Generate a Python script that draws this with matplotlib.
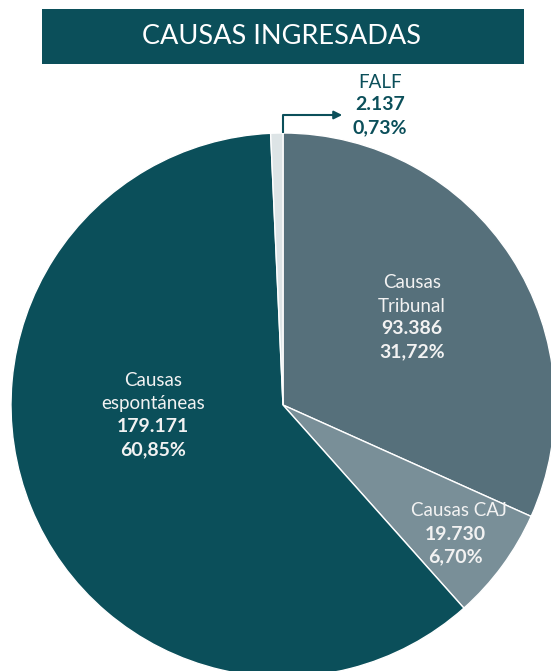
import matplotlib
matplotlib.use("Agg")
import matplotlib.pyplot as plt
from matplotlib.patches import Rectangle

plt.rcParams['font.family'] = ['Lato', 'DejaVu Sans']

# ── data ──────────────────────────────────────────────────────────────────────
LABELS   = ["Causas\nTribunal", "Causas CAJ", "Causas\nespontáneas", "FALF"]
VALUES   = [93386, 19730, 179171, 2137]
VAL_TXT  = ["93.386", "19.730", "179.171", "2.137"]
PCT_TXT  = ["31,72%", "6,70%", "60,85%", "0,73%"]
COLORS   = ["#56707b", "#798f98", "#0b4f5a", "#dde4e6"]

TEAL = "#0b4f5a"
W, H = 551, 671


def Y(y):
    return H - y


fig = plt.figure(figsize=(W / 100, H / 100), dpi=100)
ax = fig.add_axes([0, 0, 1, 1])
ax.set_xlim(0, W)
ax.set_ylim(0, H)
ax.set_aspect("equal")
ax.axis("off")

# ── pie ───────────────────────────────────────────────────────────────────────
ax.pie(VALUES, colors=COLORS, startangle=90, counterclock=False,
       center=(283, Y(405)), radius=272,
       wedgeprops=dict(edgecolor="white", linewidth=1.0))
ax.set_xlim(0, W)
ax.set_ylim(0, H)

# ── title box ─────────────────────────────────────────────────────────────────
ax.add_patch(Rectangle((42, Y(64)), 482, 55, facecolor=TEAL, edgecolor="none", zorder=5))
ax.text(282, Y(37), "CAUSAS INGRESADAS", color="white", fontsize=19.5,
        ha="center", va="center", zorder=6)

# ── slice labels ──────────────────────────────────────────────────────────────
def block(x, y_first, name, val, pct, color, step=23, name_dx=0):
    lines = name.split("\n")
    y = y_first
    for ln in lines:
        ax.text(x + name_dx, Y(y), ln, color=color, fontsize=13.5,
                ha="center", va="center")
        y += step
    ax.text(x, Y(y), val, color=color, fontsize=14, fontweight="bold",
            ha="center", va="center")
    y += step
    ax.text(x, Y(y), pct, color=color, fontsize=14, fontweight="bold",
            ha="center", va="center")


block(412, 283, LABELS[0], VAL_TXT[0], PCT_TXT[0], "#f2f2f2")
block(455, 511, LABELS[1], VAL_TXT[1], PCT_TXT[1], "#f2f2f2", name_dx=4)
block(153, 381, LABELS[2], VAL_TXT[2], PCT_TXT[2], "#f2f2f2")
block(380, 82, LABELS[3], VAL_TXT[3], PCT_TXT[3], TEAL)

# ── FALF arrow ────────────────────────────────────────────────────────────────
ax.plot([283, 283, 335], [Y(133), Y(115), Y(115)], color=TEAL, lw=1.5,
        solid_capstyle="butt", zorder=4)
ax.annotate("", xy=(345, Y(115)), xytext=(333, Y(115)),
            arrowprops=dict(arrowstyle="-|>", color=TEAL, lw=1.5,
                            mutation_scale=12))

fig.savefig("out.png", dpi=100, facecolor="white")
